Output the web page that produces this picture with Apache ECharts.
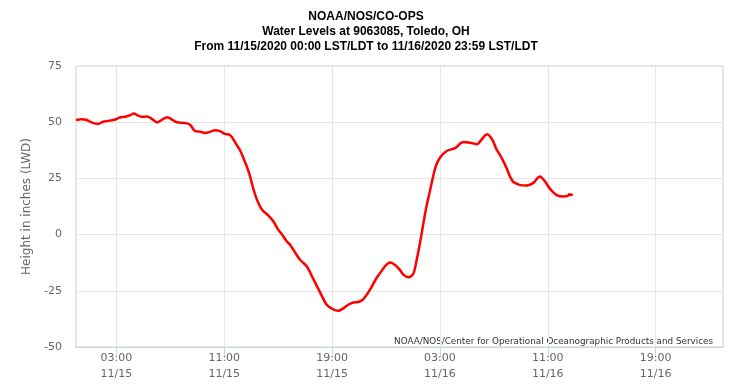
<!DOCTYPE html>
<html>
<head>
<meta charset="utf-8">
<script src="https://cdn.jsdelivr.net/npm/echarts@6/dist/echarts.min.js"></script>
<style>html,body{margin:0;padding:0;background:#fff}#chart{width:732px;height:391px}</style>
</head>
<body>
<div id="chart"></div>
<script>
// Hours since 11/15/2020 00:00 LST/LDT
var hours = [0.0,0.4,0.8,1.15,1.65,2.0,2.5,2.9,3.25,3.65,4.0,4.3,4.5,4.85,5.25,5.6,6.03,6.43,6.77,7.1,7.47,8.1,8.46,8.83,9.2,9.57,9.94,10.3,10.68,11.05,11.42,11.67,11.92,12.17,12.41,12.66,12.91,13.15,13.4,13.7,13.9,14.26,14.64,15.0,15.38,15.63,15.88,16.12,16.62,17.12,17.6,18.1,18.6,19.09,19.46,19.8,20.2,20.57,20.94,21.3,21.8,22.3,22.6,22.92,23.3,23.7,24.04,24.3,24.7,25.03,25.2,25.4,25.6,25.8,26.0,26.26,26.5,26.7,27.0,27.5,28.12,28.73,29.23,29.75,30.1,30.5,30.9,31.2,31.45,31.7,31.95,32.2,32.44,32.7,32.94,33.44,33.94,34.4,34.75,35.2,35.66,36.16,36.5,36.6,36.7,36.85];
// Water level, inches above LWD
var levels = [51.0,51.3,51.0,49.9,49.2,50.2,50.7,51.2,52.1,52.4,53.1,53.9,53.3,52.4,52.5,51.6,49.9,51.3,52.2,51.3,50.0,49.6,48.9,46.1,45.8,45.2,45.7,46.4,46.0,44.8,44.3,42.4,39.9,37.5,34.2,30.5,26.0,20.5,15.9,12.0,10.4,8.6,5.9,2.2,-0.7,-3.0,-4.5,-6.7,-11.2,-14.1,-19.7,-25.6,-31.2,-33.3,-33.9,-32.9,-31.2,-30.2,-30.0,-28.8,-24.6,-19.3,-16.8,-14.1,-12.4,-13.6,-15.8,-17.9,-19.0,-17.3,-13.5,-7.5,-1.0,6.0,12.5,19.5,26.0,30.5,34.2,37.2,38.5,41.2,40.9,40.2,42.4,44.6,42.0,37.9,35.5,32.7,29.5,25.8,23.5,22.6,22.0,21.8,23.0,25.8,24.0,20.1,17.6,16.9,17.3,18.0,17.6,18.1];
var tickHours = [3, 11, 19, 27, 35, 43];
var tickTimes = ['03:00', '11:00', '19:00', '03:00', '11:00', '19:00'];
var tickDates = ['11/15', '11/15', '11/15', '11/16', '11/16', '11/16'];
var yTicks = [-50, -25, 0, 25, 50, 75];
var titleLines = ['NOAA/NOS/CO-OPS', 'Water Levels at 9063085, Toledo, OH', 'From 11/15/2020 00:00 LST/LDT to 11/16/2020 23:59 LST/LDT'];
var yName = 'Height in inches (LWD)';
var creditText = 'NOAA/NOS/Center for Operational Oceanographic Products and Services';

var data = hours.map(function (h, i) { return [h, levels[i]]; });

var chart = echarts.init(document.getElementById('chart'), null, {renderer: 'canvas'});
chart.setOption({
  animation: false,
  backgroundColor: '#ffffff',
  title: {
    text: titleLines.join('\n'),
    left: 'center',
    top: 4,
    textStyle: {fontFamily: 'Liberation Sans, Arial, sans-serif', fontSize: 12, fontWeight: 'bold', color: '#000', lineHeight: 15}
  },
  grid: {left: 76, right: 9, top: 66, bottom: 44, show: true, borderColor: '#cccccc', borderWidth: 1, backgroundColor: 'transparent'},
  xAxis: {
    type: 'value', min: 0, max: 48,
    axisLine: {show: true, onZero: false, lineStyle: {color: '#ccd6eb', width: 1}},
    axisTick: {show: true, customValues: tickHours, length: 10, lineStyle: {color: '#ccd6eb'}},
    splitLine: {show: true, lineStyle: {color: '#e6e6e6', width: 1}},
    axisLabel: {
      customValues: tickHours,
      margin: 3,
      color: '#666666', fontSize: 11, lineHeight: 16, fontFamily: 'DejaVu Sans, sans-serif',
      formatter: function (v) { var i = tickHours.indexOf(v); return i < 0 ? '' : tickTimes[i] + '\n' + tickDates[i]; }
    }
  },
  yAxis: {
    type: 'value', min: yTicks[0], max: yTicks[yTicks.length - 1], interval: 25,
    name: yName, nameLocation: 'middle', nameGap: 38, nameRotate: 90,
    nameTextStyle: {color: '#666666', fontSize: 12, fontFamily: 'DejaVu Sans, sans-serif'},
    axisLine: {show: false}, axisTick: {show: false},
    splitLine: {show: true, lineStyle: {color: '#e6e6e6', width: 1}},
    axisLabel: {color: '#666666', fontSize: 11, margin: 14, fontFamily: 'DejaVu Sans, sans-serif'}
  },
  series: [{
    type: 'line', data: data, showSymbol: false, smooth: 0.3,
    lineStyle: {color: '#ff0000', width: 2.5}, itemStyle: {color: '#ff0000'}
  }],
  graphic: [{
    type: 'text', right: 19, top: 337, silent: true,
    style: {text: creditText, fill: '#333333', fontSize: 8.8, fontFamily: 'DejaVu Sans, sans-serif'}
  }]
});
</script>
</body>
</html>
